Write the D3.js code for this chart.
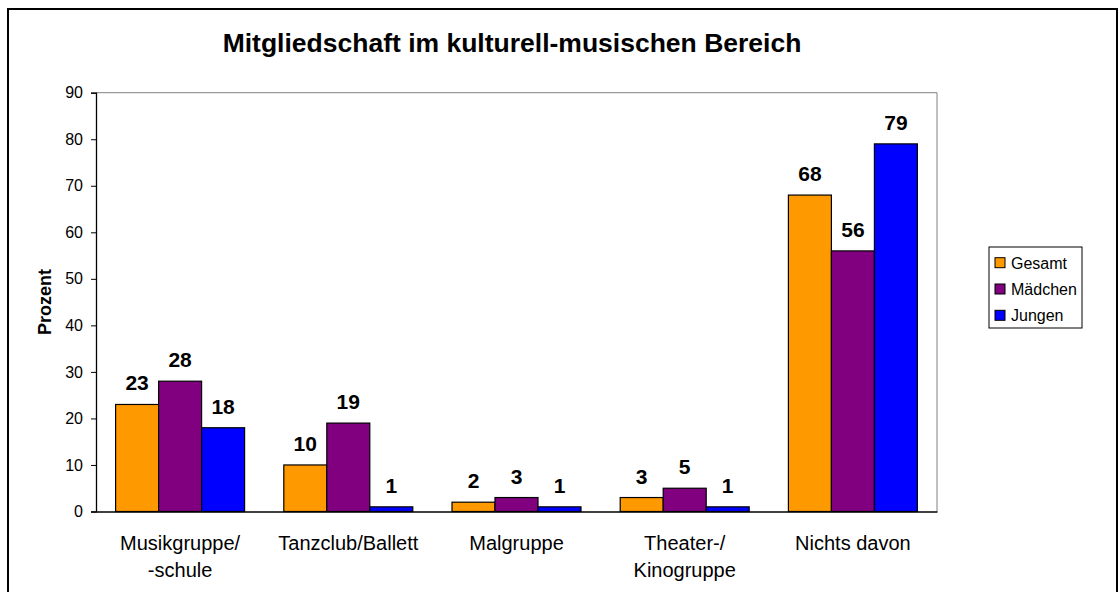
<!DOCTYPE html>
<html>
<head>
<meta charset="utf-8">
<script src="https://cdn.jsdelivr.net/npm/d3@7"></script>
<style>
  body { margin: 0; background: #fff; }
  text { font-family: "Liberation Sans", Arial, sans-serif; fill: #000; }
</style>
</head>
<body>
<div id="chart"></div>
<script>
//////////////////////////// data /////////////////////////////////////////

const categories = [
  ["Musikgruppe/", "-schule"],
  ["Tanzclub/Ballett"],
  ["Malgruppe"],
  ["Theater-/", "Kinogruppe"],
  ["Nichts davon"]
];
const seriesNames = ["Gesamt", "Mädchen", "Jungen"];
const gesamt = [23, 10, 2, 3, 68];
const maedchen = [28, 19, 3, 5, 56];
const jungen = [18, 1, 1, 1, 79];
const yTicks = [0, 10, 20, 30, 40, 50, 60, 70, 80, 90];
const colors = ["#FF9900", "#800080", "#0000FF"];

const seriesValues = [gesamt, maedchen, jungen];
const catKeys = categories.map((c) => c.join(" "));

//////////////////////////// svg ///////////////////////////////////////////

const width = 1120;
const height = 592;
const plot = { left: 96, right: 937, top: 92.7, bottom: 511.5 };

const svg = d3.select("#chart").append("svg")
  .attr("width", width)
  .attr("height", height);

// outer chart frame
svg.append("rect")
  .attr("x", 8).attr("y", 9)
  .attr("width", 1109).attr("height", 600)
  .attr("fill", "#fff")
  .attr("stroke", "#000")
  .attr("stroke-width", 2);

// title
svg.append("text")
  .attr("x", 512).attr("y", 52)
  .attr("text-anchor", "middle")
  .style("font-size", "26.5px")
  .style("font-weight", "bold")
  .text("Mitgliedschaft im kulturell-musischen Bereich");

//////////////////////////// scales ////////////////////////////////////////

const x0 = d3.scaleBand()
  .domain(catKeys)
  .range([plot.left, plot.right])
  .padding(0);

const x1 = d3.scaleBand()
  .domain(seriesNames)
  .range([0, x0.bandwidth()])
  .paddingInner(0)
  .paddingOuter(0.456);

const y = d3.scaleLinear()
  .domain([0, 90])
  .range([plot.bottom, plot.top]);

const cScale = d3.scaleOrdinal().domain(seriesNames).range(colors);

//////////////////////////// plot frame ////////////////////////////////////

svg.append("path")
  .attr("d", `M${plot.left},${plot.top}H${plot.right}V${plot.bottom}`)
  .attr("fill", "none")
  .attr("stroke", "#808080")
  .attr("stroke-width", 1);

//////////////////////////// axes //////////////////////////////////////////

const yAxis = svg.append("g")
  .attr("transform", `translate(${plot.left},0)`)
  .call(d3.axisLeft(y).tickValues(yTicks).tickSize(5).tickPadding(8).tickFormat(d3.format("d")));
yAxis.select(".domain").attr("stroke", "#000").attr("stroke-width", 1.3);
yAxis.selectAll(".tick line").attr("stroke", "#000");
yAxis.selectAll("text")
  .style("font-size", "16px")
  .style("font-family", "Liberation Sans, Arial, sans-serif")
  .attr("fill", "#000");

const xAxis = svg.append("g")
  .attr("transform", `translate(0,${plot.bottom})`)
  .call(d3.axisBottom(x0).tickSize(0).tickFormat(""));
xAxis.select(".domain").attr("stroke", "#000").attr("stroke-width", 1.3);

// category labels (two lines where needed)
xAxis.selectAll(".tick").each(function (d, i) {
  const t = d3.select(this).append("text")
    .attr("text-anchor", "middle")
    .style("font-size", "20px")
    .style("font-family", "Liberation Sans, Arial, sans-serif")
    .attr("fill", "#000");
  categories[i].forEach((line, j) => {
    t.append("tspan").attr("x", 0).attr("y", 38.5 + j * 26.5).text(line);
  });
});

// y title
svg.append("text")
  .attr("transform", `translate(51,${(plot.top + plot.bottom) / 2}) rotate(-90)`)
  .attr("text-anchor", "middle")
  .style("font-size", "18px")
  .style("font-weight", "bold")
  .text("Prozent");

//////////////////////////// bars //////////////////////////////////////////

const rows = [];
catKeys.forEach((c, i) => {
  seriesNames.forEach((s, j) => {
    rows.push({ cat: c, series: s, value: seriesValues[j][i] });
  });
});

const bars = svg.append("g");
bars.selectAll("rect")
  .data(rows)
  .join("rect")
  .attr("x", (d) => x0(d.cat) + x1(d.series))
  .attr("y", (d) => y(d.value))
  .attr("width", x1.bandwidth())
  .attr("height", (d) => y(0) - y(d.value))
  .attr("fill", (d) => cScale(d.series))
  .attr("stroke", "#000")
  .attr("stroke-width", 1.2);

bars.selectAll("text")
  .data(rows)
  .join("text")
  .attr("x", (d) => x0(d.cat) + x1(d.series) + x1.bandwidth() / 2)
  .attr("y", (d) => y(d.value) - 14)
  .attr("text-anchor", "middle")
  .style("font-size", "21px")
  .style("font-weight", "bold")
  .text((d) => d.value);

//////////////////////////// legend ////////////////////////////////////////

const legend = svg.append("g").attr("transform", "translate(989,247)");
legend.append("rect")
  .attr("width", 93).attr("height", 81)
  .attr("fill", "#fff")
  .attr("stroke", "#000")
  .attr("stroke-width", 1);

const item = legend.selectAll(".item")
  .data(seriesNames)
  .join("g")
  .attr("class", "item")
  .attr("transform", (d, i) => `translate(0,${15.7 + i * 26.3})`);

item.append("rect")
  .attr("x", 6).attr("y", -5)
  .attr("width", 10).attr("height", 10)
  .attr("fill", (d) => cScale(d))
  .attr("stroke", "#000")
  .attr("stroke-width", 1);

item.append("text")
  .attr("x", 22).attr("y", 6)
  .style("font-size", "16px")
  .text((d) => d);
</script>
</body>
</html>
